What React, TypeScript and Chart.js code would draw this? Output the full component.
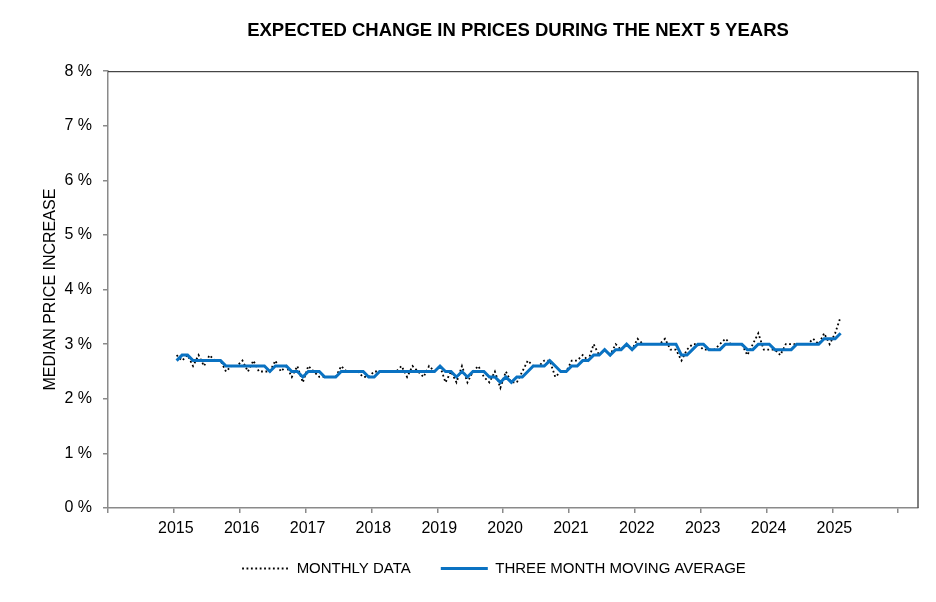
import { useEffect, useRef } from "react";
import { Chart, registerables } from "chart.js";

Chart.register(...registerables);

// Monthly observations, January 2015 through February 2025 (percent)
const firstYear = 2015;
const monthly = [
  2.8, 2.7, 2.8, 2.6, 2.8, 2.6, 2.8, 2.7, 2.7, 2.5, 2.6, 2.6,
  2.7, 2.5, 2.7, 2.5, 2.5, 2.5, 2.7, 2.5, 2.6, 2.4, 2.6, 2.3,
  2.6, 2.5, 2.4, 2.4, 2.4, 2.4, 2.6, 2.5, 2.5, 2.5, 2.4, 2.4,
  2.5, 2.5, 2.5, 2.5, 2.5, 2.6, 2.4, 2.6, 2.5, 2.4, 2.6, 2.5,
  2.6, 2.3, 2.5, 2.3, 2.6, 2.3, 2.5, 2.6, 2.4, 2.3, 2.5, 2.2,
  2.5, 2.3, 2.3, 2.5, 2.7, 2.6, 2.6, 2.7, 2.7, 2.4, 2.5, 2.5,
  2.7, 2.7, 2.8, 2.7, 3.0, 2.8, 2.9, 2.8, 3.0, 2.9, 3.0, 2.9,
  3.1, 3.0, 3.0, 3.0, 3.0, 3.1, 2.9, 2.9, 2.7, 2.9, 3.0, 3.0,
  2.9, 2.9, 2.9, 3.0, 3.1, 3.0, 3.0, 3.0, 2.8, 3.0, 3.2, 2.9,
  2.9, 2.9, 2.8, 3.0, 3.0, 3.0, 3.0, 3.0, 3.1, 3.0, 3.2, 3.0,
  3.2, 3.5,
];

// Three month moving average, same months (percent)
const movingAvg = [
  2.7, 2.8, 2.8, 2.7, 2.7, 2.7, 2.7, 2.7, 2.7, 2.6, 2.6, 2.6,
  2.6, 2.6, 2.6, 2.6, 2.6, 2.5, 2.6, 2.6, 2.6, 2.5, 2.5, 2.4,
  2.5, 2.5, 2.5, 2.4, 2.4, 2.4, 2.5, 2.5, 2.5, 2.5, 2.5, 2.4,
  2.4, 2.5, 2.5, 2.5, 2.5, 2.5, 2.5, 2.5, 2.5, 2.5, 2.5, 2.5,
  2.6, 2.5, 2.5, 2.4, 2.5, 2.4, 2.5, 2.5, 2.5, 2.4, 2.4, 2.3,
  2.4, 2.3, 2.4, 2.4, 2.5, 2.6, 2.6, 2.6, 2.7, 2.6, 2.5, 2.5,
  2.6, 2.6, 2.7, 2.7, 2.8, 2.8, 2.9, 2.8, 2.9, 2.9, 3.0, 2.9,
  3.0, 3.0, 3.0, 3.0, 3.0, 3.0, 3.0, 3.0, 2.8, 2.8, 2.9, 3.0,
  3.0, 2.9, 2.9, 2.9, 3.0, 3.0, 3.0, 3.0, 2.9, 2.9, 3.0, 3.0,
  3.0, 2.9, 2.9, 2.9, 2.9, 3.0, 3.0, 3.0, 3.0, 3.0, 3.1, 3.1,
  3.1, 3.2,
];

const seriesNames = ["MONTHLY DATA", "THREE MONTH MOVING AVERAGE"];
const axisStartYear = 2014;
const axisEndYear = 2026;
const labelledYears = [2015, 2016, 2017, 2018, 2019, 2020, 2021, 2022, 2023, 2024, 2025];
const yMin = 0;
const yMax = 8;
const titleText = "EXPECTED CHANGE IN PRICES DURING THE NEXT 5 YEARS";
const yTitle = "MEDIAN PRICE INCREASE";

const FONT = "'Liberation Sans', Arial, Helvetica, sans-serif";

export default function App() {
  const ref = useRef<HTMLCanvasElement | null>(null);

  useEffect(() => {
    if (!ref.current) return;
    // x value = months since January of axisStartYear; a month's point sits mid-month
    const offset = (firstYear - axisStartYear) * 12 + 0.5;
    const toPoints = (arr: number[]) => arr.map((v, i) => ({ x: offset + i, y: v }));

    const framePlugin = {
      id: "frame",
      afterLayout(chart: any) {
        const lg = chart.legend;
        if (lg) {
          lg.left += 17;
          lg.right += 17;
          lg.top -= 7;
          lg.bottom -= 7;
        }
        const tb = chart.titleBlock;
        if (tb) {
          tb.left += 5;
          tb.right += 5;
        }
      },
      afterDatasetsDraw(chart: any) {
        const { ctx, chartArea } = chart;
        ctx.save();
        ctx.beginPath();
        ctx.strokeStyle = "#1a1a1a";
        ctx.lineWidth = 1;
        ctx.moveTo(chartArea.left, chartArea.top + 0.5);
        ctx.lineTo(chartArea.right, chartArea.top + 0.5);
        ctx.stroke();
        ctx.beginPath();
        ctx.strokeStyle = "#555555";
        ctx.lineWidth = 1.5;
        ctx.moveTo(chartArea.right, chartArea.top);
        ctx.lineTo(chartArea.right, chartArea.bottom);
        ctx.stroke();
        ctx.restore();
      },
    };

    const chart = new Chart(ref.current, {
      type: "line",
      data: {
        datasets: [
          {
            label: seriesNames[1],
            data: toPoints(movingAvg),
            borderColor: "#0a72c2",
            backgroundColor: "#0a72c2",
            borderWidth: 3,
            pointRadius: 0,
            tension: 0,
          },
          {
            label: seriesNames[0],
            data: toPoints(monthly),
            borderColor: "#000000",
            backgroundColor: "#000000",
            borderWidth: 1.8,
            borderDash: [1.8, 2.6],
            pointRadius: 0,
            tension: 0,
          },
        ],
      },
      options: {
        animation: false,
        responsive: true,
        maintainAspectRatio: false,
        events: [],
        layout: { padding: { left: 28, right: 10, top: 0, bottom: 1 } },
        plugins: {
          title: {
            display: true,
            text: titleText,
            fullSize: false,
            color: "#000",
            font: { family: FONT, size: 18.5, weight: "bold" },
            padding: { top: 12, bottom: 29 },
          },
          legend: {
            position: "bottom",
            reverse: true,
            labels: {
              usePointStyle: true,
              pointStyle: "line",
              pointStyleWidth: 47,
              padding: 30,
              color: "#000",
              font: { family: FONT, size: 15 },
              generateLabels: (c: any) =>
                Chart.defaults.plugins.legend.labels.generateLabels(c).map((item: any) => {
                  const ds: any = c.data.datasets[item.datasetIndex];
                  return {
                    ...item,
                    strokeStyle: ds.borderColor,
                    fillStyle: ds.borderColor,
                    lineWidth: ds.borderWidth,
                    lineDash: ds.borderDash || [],
                    pointStyle: "line",
                  };
                }),
            },
          },
          tooltip: { enabled: false },
        },
        scales: {
          x: {
            type: "linear",
            min: 0,
            max: (axisEndYear - axisStartYear) * 12 + 3.6,
            afterFit: (s: any) => {
              s.height = 30;
            },
            grid: {
              display: true,
              drawOnChartArea: false,
              drawTicks: true,
              tickLength: 5,
              color: "#8a8a8a",
              lineWidth: 1.5,
            },
            border: { display: true, color: "#8a8a8a", width: 1.5 },
            ticks: {
              stepSize: 12,
              includeBounds: false,
              autoSkip: false,
              maxRotation: 0,
              padding: 6,
              labelOffset: 2,
              color: "#000",
              font: { family: FONT, size: 16 },
              callback: (v: any) => {
                const yr = axisStartYear + Math.round(Number(v) / 12);
                return labelledYears.includes(yr) ? String(yr) : "";
              },
            },
          },
          y: {
            min: yMin,
            max: yMax,
            afterFit: (s: any) => {
              s.width = 72;
            },
            grid: {
              display: true,
              drawOnChartArea: false,
              drawTicks: true,
              tickLength: 5,
              color: "#8a8a8a",
              lineWidth: 1.5,
            },
            border: { display: true, color: "#8a8a8a", width: 1.5 },
            ticks: {
              stepSize: 1,
              padding: 11,
              color: "#000",
              font: { family: FONT, size: 16 },
              callback: (v: any) => `${v} %`,
            },
            title: {
              display: true,
              text: yTitle,
              color: "#000",
              padding: { top: 5, bottom: 0 },
              font: { family: FONT, size: 16 },
            },
          },
        },
      },
      plugins: [framePlugin],
    });
    return () => chart.destroy();
  }, []);

  return (
    <div style={{ width: 920, height: 586, position: "relative" }}>
      <canvas ref={ref} />
    </div>
  );
}
